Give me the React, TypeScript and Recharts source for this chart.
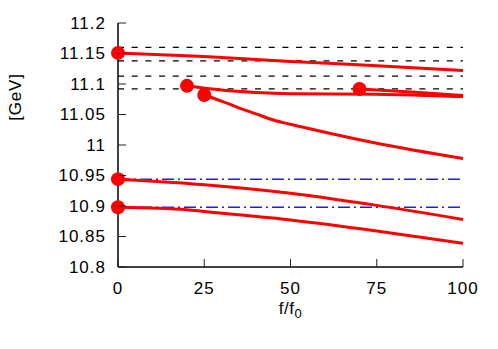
import React from 'react'
import {
  LineChart,
  Line,
  XAxis,
  YAxis,
  ReferenceLine,
  Scatter,
} from 'recharts'

// f/f0 values and masses [GeV] for each red curve
const curveA = [
  { f: 0, m: 11.151 },
  { f: 25, m: 11.145 },
  { f: 50, m: 11.137 },
  { f: 75, m: 11.13 },
  { f: 100, m: 11.122 },
]
const curveB = [
  { f: 20, m: 11.097 },
  { f: 30, m: 11.09 },
  { f: 40, m: 11.086 },
  { f: 50, m: 11.084 },
  { f: 75, m: 11.083 },
  { f: 100, m: 11.079 },
]
const curveC = [
  { f: 25, m: 11.082 },
  { f: 30, m: 11.072 },
  { f: 35, m: 11.061 },
  { f: 40, m: 11.051 },
  { f: 45, m: 11.041 },
  { f: 50, m: 11.034 },
  { f: 60, m: 11.021 },
  { f: 75, m: 11.003 },
  { f: 100, m: 10.978 },
]
const curveD = [
  { f: 70, m: 11.092 },
  { f: 85, m: 11.087 },
  { f: 100, m: 11.081 },
]
const curveE = [
  { f: 0, m: 10.944 },
  { f: 25, m: 10.935 },
  { f: 50, m: 10.921 },
  { f: 75, m: 10.901 },
  { f: 100, m: 10.878 },
]
const curveF = [
  { f: 0, m: 10.898 },
  { f: 20, m: 10.894 },
  { f: 25, m: 10.891 },
  { f: 50, m: 10.877 },
  { f: 75, m: 10.859 },
  { f: 100, m: 10.839 },
]
const curves = [curveA, curveB, curveC, curveD, curveE, curveF]

// dashed black thresholds and blue dash-dot thresholds
const blackLevels = [11.16, 11.138, 11.113, 11.092]
const blueLevels = [10.944, 10.898]

const xTicks = [0, 25, 50, 75, 100]
const yTicks = [10.8, 10.85, 10.9, 10.95, 11, 11.05, 11.1, 11.15, 11.2]

const FONT = '"Liberation Sans", Arial, sans-serif'
const TICK = 8
const FS = 17

const startPoints = curves.map((c) => c[0])

const LeftTick = ({ x, y, payload }: any) => (
  <g>
    <line x1={x + 12} x2={x + 12 + TICK} y1={y} y2={y} stroke="#222" strokeWidth={1} />
    <text x={x} y={y} textAnchor="end" dominantBaseline="central" fontSize={FS} fill="#000" fontFamily={FONT} letterSpacing={1}>
      {String(payload.value)}
    </text>
  </g>
)

const RightTick = ({ x, y }: any) => (
  <line x1={x} x2={x - TICK} y1={y} y2={y} stroke="#222" strokeWidth={1} />
)

const BottomTick = ({ x, y, payload }: any) => (
  <g>
    <line x1={x} x2={x} y1={y} y2={y - TICK} stroke="#222" strokeWidth={1} />
    <text x={x} y={y + 21} textAnchor="middle" dominantBaseline="central" fontSize={FS} fill="#000" fontFamily={FONT} letterSpacing={1}>
      {String(payload.value)}
    </text>
  </g>
)

const TopTick = ({ x, y }: any) => (
  <line x1={x} x2={x} y1={y} y2={y + TICK} stroke="#222" strokeWidth={1} />
)

export default function App() {
  return (
    <div style={{ position: 'absolute', left: 0, top: 0, width: 498, height: 349, background: '#fff' }}>
      <LineChart width={498} height={349} margin={{ top: 23, right: 35, bottom: 0, left: 0 }}>
        <XAxis
          xAxisId="b"
          type="number"
          dataKey="f"
          domain={[0, 100]}
          ticks={xTicks}
          height={82}
          tickSize={0}
          tickMargin={0}
          tickLine={false}
          axisLine={{ stroke: '#000', strokeWidth: 1.5 }}
          tick={<BottomTick />}
          label={
            <text x={296} y={309} textAnchor="middle" dominantBaseline="central" fontSize={FS} fontFamily={FONT} fill="#000" letterSpacing={0.5}>
              f/f
              <tspan fontSize={13} dy={5}>0</tspan>
            </text>
          }
        />
        <XAxis
          xAxisId="t"
          orientation="top"
          type="number"
          dataKey="f"
          domain={[0, 100]}
          ticks={xTicks}
          height={0}
          tickSize={0}
          tickLine={false}
          axisLine={{ stroke: '#000', strokeWidth: 1.5 }}
          tick={<TopTick />}
        />
        <YAxis
          yAxisId="l"
          type="number"
          dataKey="m"
          domain={[10.8, 11.2]}
          ticks={yTicks}
          width={118}
          tickSize={0}
          tickMargin={12}
          tickLine={false}
          axisLine={{ stroke: '#000', strokeWidth: 1.5 }}
          tick={<LeftTick />}
          label={
            <text x={13} y={143} textAnchor="middle" dominantBaseline="central" fontSize={FS} fontFamily={FONT} fill="#000" letterSpacing={0.8} transform="rotate(-90 13 143)">
              [GeV]
            </text>
          }
        />
        <YAxis
          yAxisId="r"
          orientation="right"
          type="number"
          dataKey="m"
          domain={[10.8, 11.2]}
          ticks={yTicks}
          width={0}
          tickSize={0}
          tickLine={false}
          axisLine={{ stroke: '#000', strokeWidth: 1.5 }}
          tick={<RightTick />}
        />
        {blackLevels.map((v, i) => (
          <ReferenceLine key={`k${i}`} xAxisId="b" yAxisId="l" y={v} stroke="#000" strokeWidth={1.3} strokeDasharray="6 7.7" />
        ))}
        {blueLevels.map((v, i) => (
          <ReferenceLine key={`bl${i}`} xAxisId="b" yAxisId="l" y={v} stroke="#1a1aff" strokeWidth={1.5} strokeDasharray="12 4 2 4" />
        ))}
        {curves.map((c, i) => (
          <Line
            key={`c${i}`}
            xAxisId="b"
            yAxisId="l"
            data={c}
            dataKey="m"
            type="monotone"
            stroke="#ff0000"
            strokeWidth={3}
            dot={false}
            activeDot={false}
            isAnimationActive={false}
          />
        ))}
        <Scatter
          xAxisId="b"
          yAxisId="l"
          data={startPoints}
          dataKey="m"
          fill="#ff0000"
          shape={(p: any) => <circle cx={p.cx} cy={p.cy} r={7} fill="#ff0000" />}
          isAnimationActive={false}
        />
      </LineChart>
    </div>
  )
}
